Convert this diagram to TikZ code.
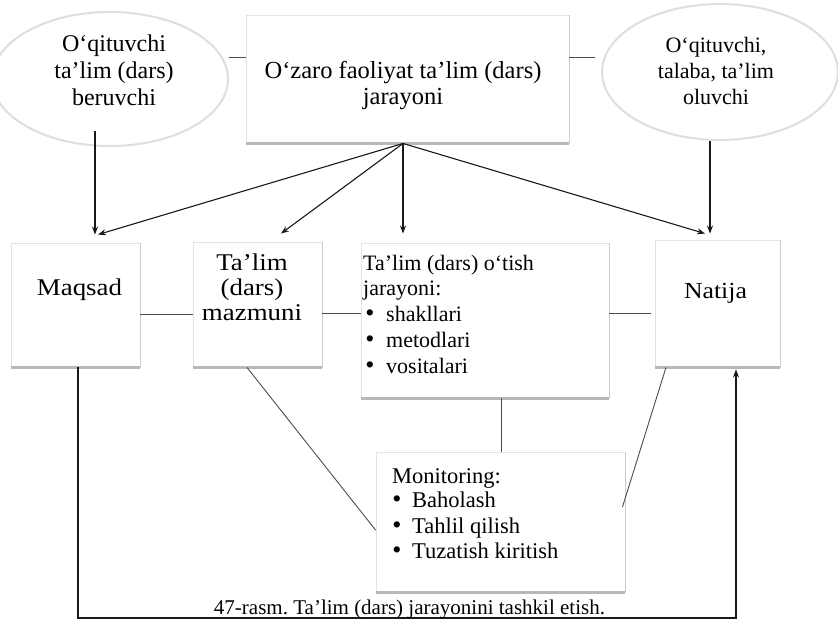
\documentclass[tikz,border=0pt]{standalone}
\usepackage{fontspec}
\setmainfont{Liberation Serif}
\newfontfamily\widefont{Liberation Serif}[FakeStretch=1.12]
\usetikzlibrary{arrows.meta,calc,shapes.geometric}
\frenchspacing
\begin{document}
\begin{tikzpicture}[x=1pt,y=-1pt,
  boxstyle/.style={draw=black!11, line width=0.9pt, fill=white, inner sep=0pt},
  ellstyle/.style={ellipse, draw=black!13, line width=2pt, fill=white, inner sep=0pt},
  conn/.style={draw=black!70, line width=0.9pt},
  arr/.style={draw=black!90, line width=1.1pt, -{Stealth[length=8pt,width=6pt]}},
  txt/.style={inner sep=0pt, anchor=base},
  txtl/.style={inner sep=0pt, anchor=base west},
  shadowedge/.style={draw=black!28, line width=2.4pt},
  sideedge/.style={draw=black!20, line width=1.1pt},
  fA/.style={font=\fontsize{24}{28}\selectfont},
  fB/.style={font=\fontsize{22}{26}\selectfont},
  fCap/.style={font=\fontsize{21}{24}\selectfont},
  fC/.style={font=\fontsize{22.5}{26}\selectfont},
  fW/.style={font=\widefont\fontsize{24}{28}\selectfont},
  fBul/.style={font=\fontsize{26}{26}\selectfont},
]
\fill[white] (0,0) rectangle (838,619);
\useasboundingbox (0,0) rectangle (838,619);

% shapes
\node[ellstyle, minimum width=236pt, minimum height=134pt] (lell) at (110,79) {};
\node[ellstyle, minimum width=236pt, minimum height=136pt] (rell) at (720,72) {};
\node[boxstyle, minimum width=323pt, minimum height=128pt] (top) at (407.5,79) {};
\node[boxstyle, minimum width=129pt, minimum height=124pt] (maq) at (75.5,305) {};
\node[boxstyle, minimum width=129pt, minimum height=125pt] (maz) at (257.5,304.5) {};
\node[boxstyle, minimum width=248pt, minimum height=155pt] (proc) at (485,320.5) {};
\node[boxstyle, minimum width=125pt, minimum height=127pt] (nat) at (717.5,303.5) {};
\node[boxstyle, minimum width=249pt, minimum height=140pt] (mon) at (500.5,522) {};
\foreach \n in {top,maq,maz,proc,nat,mon}{
  \draw[sideedge] (\n.north east) -- (\n.south east);
  \draw[shadowedge] (\n.south west) -- (\n.south east);
}

% connectors
\coordinate (hub) at (top.south -| 403,0);
\draw[arr] (hub) -- ($(maq.north -| 98,0)+(0,-8)$);
\draw[arr] (hub) -- ($(maz.north -| 281,0)+(0,-8)$);
\draw[arr] (hub) -- ($(proc.north -| 403,0)+(0,-9)$);
\draw[arr] (hub) -- ($(nat.north -| 705,0)+(0,-6)$);
\draw[arr] ($(lell.south -| 95,0)+(0,-16)$) -- ($(maq.north -| 95,0)+(0,-8)$);
\draw[arr] (rell.south -| 710,0) -- ($(nat.north -| 710,0)+(0,-6)$);

\draw[conn] (lell.east |- 0,57) -- (top.west |- 0,57);
\draw[conn] (top.east |- 0,57) -- ($(rell.west |- 0,57)+(-6,0)$);
\draw[conn] (maq.east |- 0,314) -- (maz.west |- 0,314);
\draw[conn] (maz.east |- 0,313) -- (proc.west |- 0,313);
\draw[conn] (proc.east |- 0,313) -- ($(nat.west |- 0,313)+(-4,0)$);
\draw[conn] (proc.south -| 501,0) -- (mon.north -| 501,0);
\draw[conn] (maz.south -| 247,0) -- (mon.west |- 0,530);
\draw[conn] (nat.south -| 666,0) -- ($(mon.east |- 0,507)+(-3,0)$);
\coordinate (loopL) at (78,618);
\coordinate (loopR) at (736,618);
\draw[arr] (maq.south -| loopL) -- (loopL) -- (loopR) -- ($(nat.south -| loopR)+(0,2)$);

% texts
\node[txt, fA] (lt1) at (114,51) {O‘qituvchi};
\node[txt, fA] (lt2) at (114,78) {ta’lim (dars)};
\node[txt, fA] (lt3) at (114,105) {beruvchi};

\node[txt, fB] (rt1) at (716,52) {O‘qituvchi,};
\node[txt, fB] (rt2) at (716,78) {talaba, ta’lim};
\node[txt, fB] (rt3) at (716,104) {oluvchi};

\node[txt, font=\fontsize{24.5}{28}\selectfont] (tt1) at (403,78) {O‘zaro faoliyat ta’lim (dars)};
\node[txt, font=\fontsize{24.5}{28}\selectfont] (tt2) at (403,104) {jarayoni};

\node[txt, fW] (mq) at (79.5,295) {Maqsad};
\node[txt, fW] (mz1) at (252,270) {Ta’lim};
\node[txt, fW] (mz2) at (252,295) {(dars)};
\node[txt, fW] (mz3) at (252,320) {mazmuni};
\node[txt, font=\widefont\fontsize{23}{27}\selectfont] (nt) at (715.5,298) {Natija};

\node[txtl, font=\fontsize{22}{26}\selectfont] (p1) at (363,270) {Ta’lim (dars) o‘tish};
\node[txtl, font=\fontsize{22}{26}\selectfont] (p2) at (363,295) {jarayoni:};
\foreach \y/\t [count=\i] in {321/shakllari,347/metodlari,373/vositalari}{
  \node[txt, fBul] (pb\i) at (370,\y) {•};
  \node[txtl, font=\fontsize{22}{26}\selectfont] (pi\i) at (386,\y) {\t};
}

\node[txtl, fC] (m0) at (392,483) {Monitoring:};
\foreach \y/\t [count=\i] in {507/Baholash,533/Tahlil qilish,558/Tuzatish kiritish}{
  \node[txt, fBul] (mb\i) at (397,\y) {•};
  \node[txtl, fC] (mi\i) at (412,\y) {\t};
}

\node[txt, fCap] (cap) at (409.5,614) {47-rasm. Ta’lim (dars) jarayonini tashkil etish.};
\end{tikzpicture}
\end{document}
